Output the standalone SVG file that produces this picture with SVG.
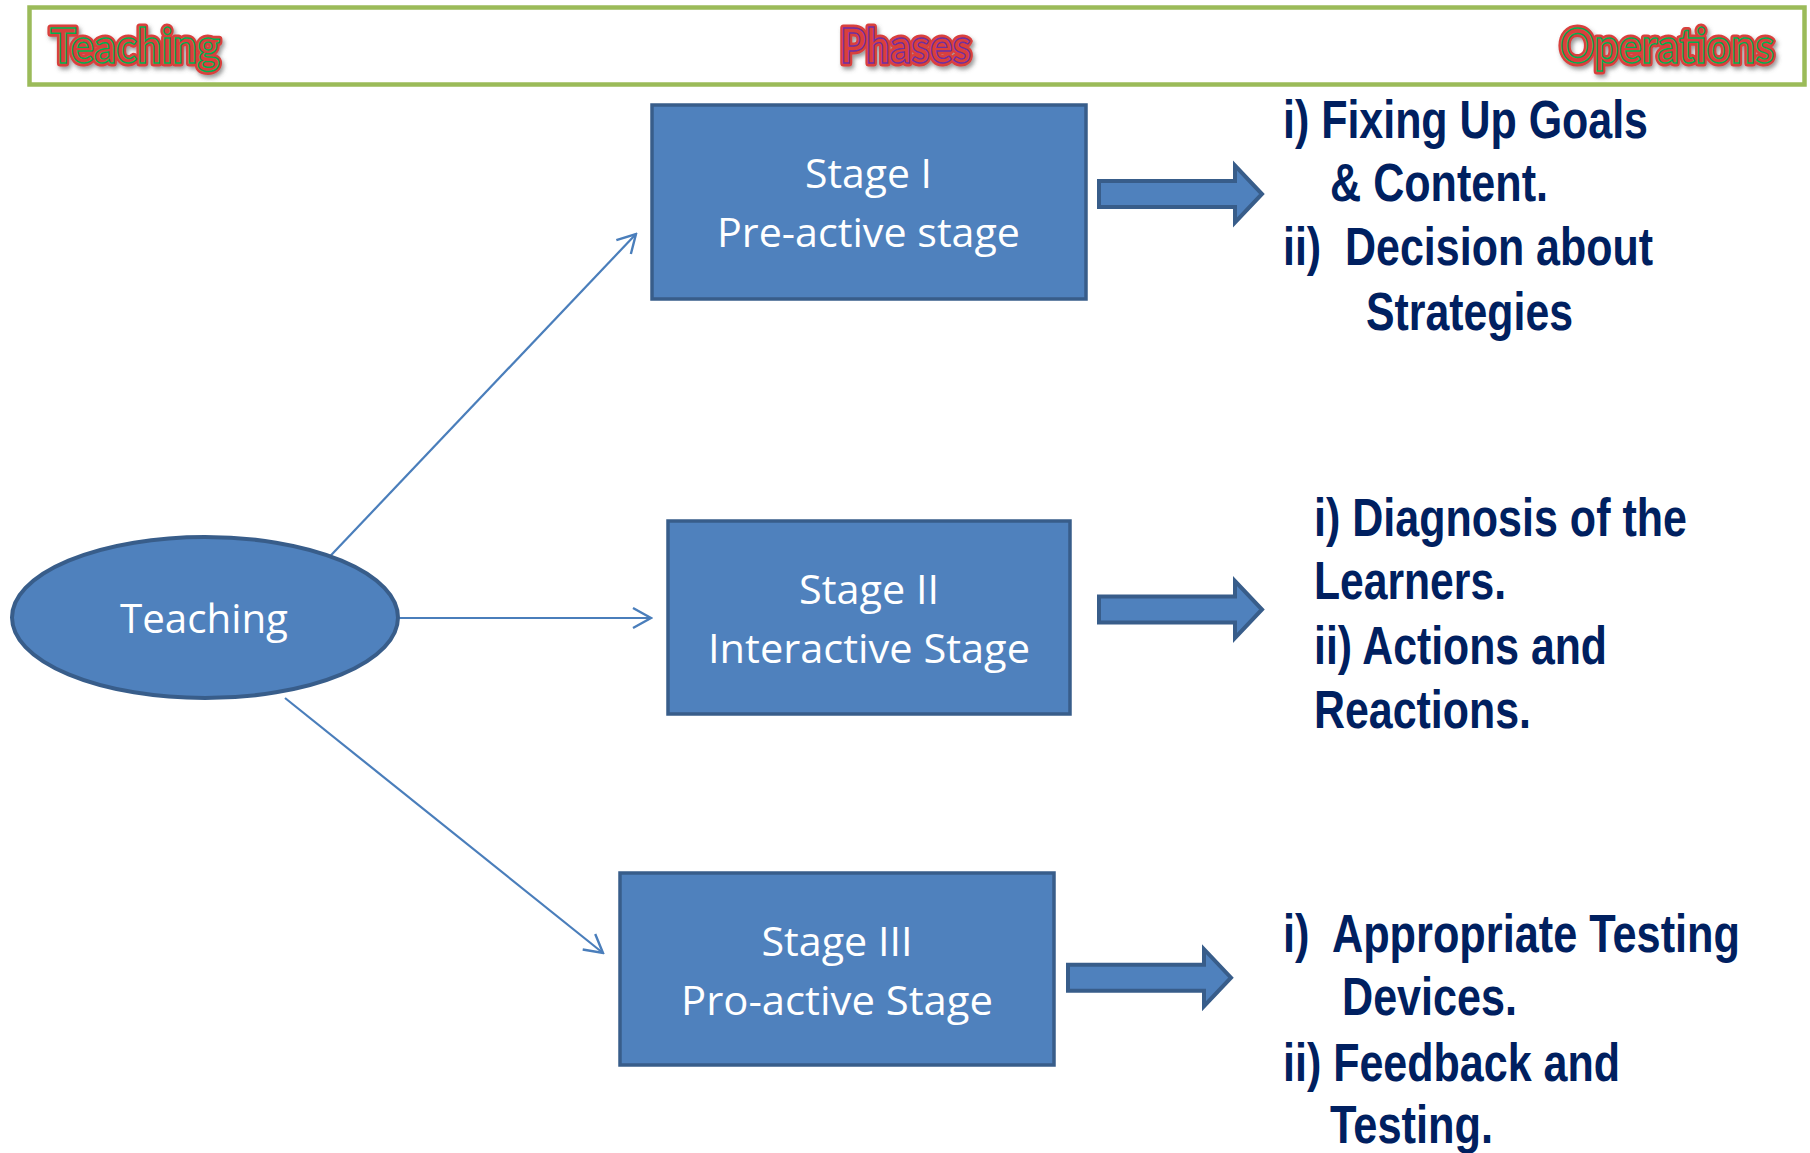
<svg xmlns="http://www.w3.org/2000/svg" xmlns:xlink="http://www.w3.org/1999/xlink" width="1810" height="1153" viewBox="0 0 1810 1153">
<style>
.box{fill:#4F81BD;stroke:#385D8A;stroke-width:3.5}
.btxt{font-family:"Open Sans","Noto Sans",sans-serif;font-size:40px;fill:#FFFFFF;text-anchor:middle}
.ops{font-family:"Liberation Sans Narrow","Liberation Sans",sans-serif;font-weight:bold;font-size:53px;fill:#002060;white-space:pre}
.hdr{font-family:Lato,"Open Sans",sans-serif;font-weight:bold;font-size:47px}
.conn{stroke:#4A7EBB;stroke-width:2.2;fill:none}
.barrow{fill:#4F81BD;stroke:#385D8A;stroke-width:4;stroke-linejoin:miter}
</style>
<defs>
<marker id="open" viewBox="0 0 22 24" refX="20" refY="12" markerWidth="22" markerHeight="24" markerUnits="userSpaceOnUse" orient="auto">
<path d="M2,2 L20,12 L2,22" fill="none" stroke="#4A7EBB" stroke-width="2.4"/>
</marker>
<filter id="sh" x="-10%" y="-30%" width="120%" height="160%">
<feDropShadow dx="2" dy="3" stdDeviation="2" flood-color="#555555" flood-opacity="0.6"/>
</filter>
<path id="blk" d="M1099,181 H1235 V165.5 L1262,194 L1235,222.5 V207 H1099 Z"/>
</defs>
<rect width="1810" height="1153" fill="#FFFFFF"/>

<g id="header">
<rect x="29.5" y="7.5" width="1775" height="77" fill="#FFFFFF" stroke="#9BBB59" stroke-width="4.5"/>
<g filter="url(#sh)">
<text class="hdr" x="50" y="63" textLength="170" lengthAdjust="spacingAndGlyphs" fill="#D93F3C" stroke="#D93F3C" stroke-width="7" stroke-linejoin="round">Teaching</text>
<text class="hdr" x="840" y="63" textLength="131" lengthAdjust="spacingAndGlyphs" fill="#D93F3C" stroke="#D93F3C" stroke-width="7" stroke-linejoin="round">Phases</text>
<text class="hdr" x="1560" y="63" textLength="214" lengthAdjust="spacingAndGlyphs" fill="#D93F3C" stroke="#D93F3C" stroke-width="7" stroke-linejoin="round">Operations</text>
</g>
<text class="hdr" x="50" y="63" textLength="170" lengthAdjust="spacingAndGlyphs" fill="#D93F3C" stroke="#00B050" stroke-width="1.4">Teaching</text>
<text class="hdr" x="840" y="63" textLength="131" lengthAdjust="spacingAndGlyphs" fill="#D93F3C" stroke="#7030A0" stroke-width="1.4">Phases</text>
<text class="hdr" x="1560" y="63" textLength="214" lengthAdjust="spacingAndGlyphs" fill="#D93F3C" stroke="#00B050" stroke-width="1.4">Operations</text>
</g>

<g id="connectors">
<line class="conn" x1="317" y1="570" x2="636" y2="234" marker-end="url(#open)"/>
<line class="conn" x1="398" y1="618" x2="651" y2="618" marker-end="url(#open)"/>
<line class="conn" x1="285" y1="698" x2="603" y2="953" marker-end="url(#open)"/>
<use href="#blk" xlink:href="#blk" class="barrow"/>
<use href="#blk" xlink:href="#blk" class="barrow" transform="translate(0,415.5)"/>
<use href="#blk" xlink:href="#blk" class="barrow" transform="translate(-31,783.7)"/>
</g>

<g id="teaching">
<ellipse cx="205" cy="617.5" rx="193" ry="80.5" fill="#4F81BD" stroke="#385D8A" stroke-width="4"/>
<text class="btxt" x="204" y="633" font-size="42" textLength="168" lengthAdjust="spacingAndGlyphs">Teaching</text>
</g>

<g id="stage1">
<rect class="box" x="652" y="105" width="434" height="194"/>
<text class="btxt" x="868.5" y="188" textLength="127" lengthAdjust="spacingAndGlyphs">Stage I</text>
<text class="btxt" x="868.5" y="247" textLength="303" lengthAdjust="spacingAndGlyphs">Pre-active stage</text>
</g>

<g id="stage2">
<rect class="box" x="668" y="521" width="402" height="193"/>
<text class="btxt" x="869" y="604" textLength="140" lengthAdjust="spacingAndGlyphs">Stage II</text>
<text class="btxt" x="869" y="663" textLength="322" lengthAdjust="spacingAndGlyphs">Interactive Stage</text>
</g>

<g id="stage3">
<rect class="box" x="620" y="873" width="434" height="192"/>
<text class="btxt" x="837" y="956" textLength="151" lengthAdjust="spacingAndGlyphs">Stage III</text>
<text class="btxt" x="837" y="1015" textLength="312" lengthAdjust="spacingAndGlyphs">Pro-active Stage</text>
</g>

<g id="ops1">
<text class="ops" x="1283" y="138" textLength="365" lengthAdjust="spacingAndGlyphs">i) Fixing Up Goals</text>
<text class="ops" x="1330" y="201" textLength="218" lengthAdjust="spacingAndGlyphs">&amp; Content.</text>
<text class="ops" x="1283" y="265" textLength="370" lengthAdjust="spacingAndGlyphs">ii)  Decision about</text>
<text class="ops" x="1366" y="330" textLength="207" lengthAdjust="spacingAndGlyphs">Strategies</text>
</g>

<g id="ops2">
<text class="ops" x="1314" y="536" textLength="373" lengthAdjust="spacingAndGlyphs">i) Diagnosis of the</text>
<text class="ops" x="1314" y="599" textLength="192" lengthAdjust="spacingAndGlyphs">Learners.</text>
<text class="ops" x="1314" y="664" textLength="293" lengthAdjust="spacingAndGlyphs">ii) Actions and</text>
<text class="ops" x="1314" y="728" textLength="217" lengthAdjust="spacingAndGlyphs">Reactions.</text>
</g>

<g id="ops3">
<text class="ops" x="1283" y="952" textLength="457" lengthAdjust="spacingAndGlyphs">i)  Appropriate Testing</text>
<text class="ops" x="1342" y="1015" textLength="175" lengthAdjust="spacingAndGlyphs">Devices.</text>
<text class="ops" x="1283" y="1081" textLength="337" lengthAdjust="spacingAndGlyphs">ii) Feedback and</text>
<text class="ops" x="1330" y="1143" textLength="163" lengthAdjust="spacingAndGlyphs">Testing.</text>
</g>
</svg>
